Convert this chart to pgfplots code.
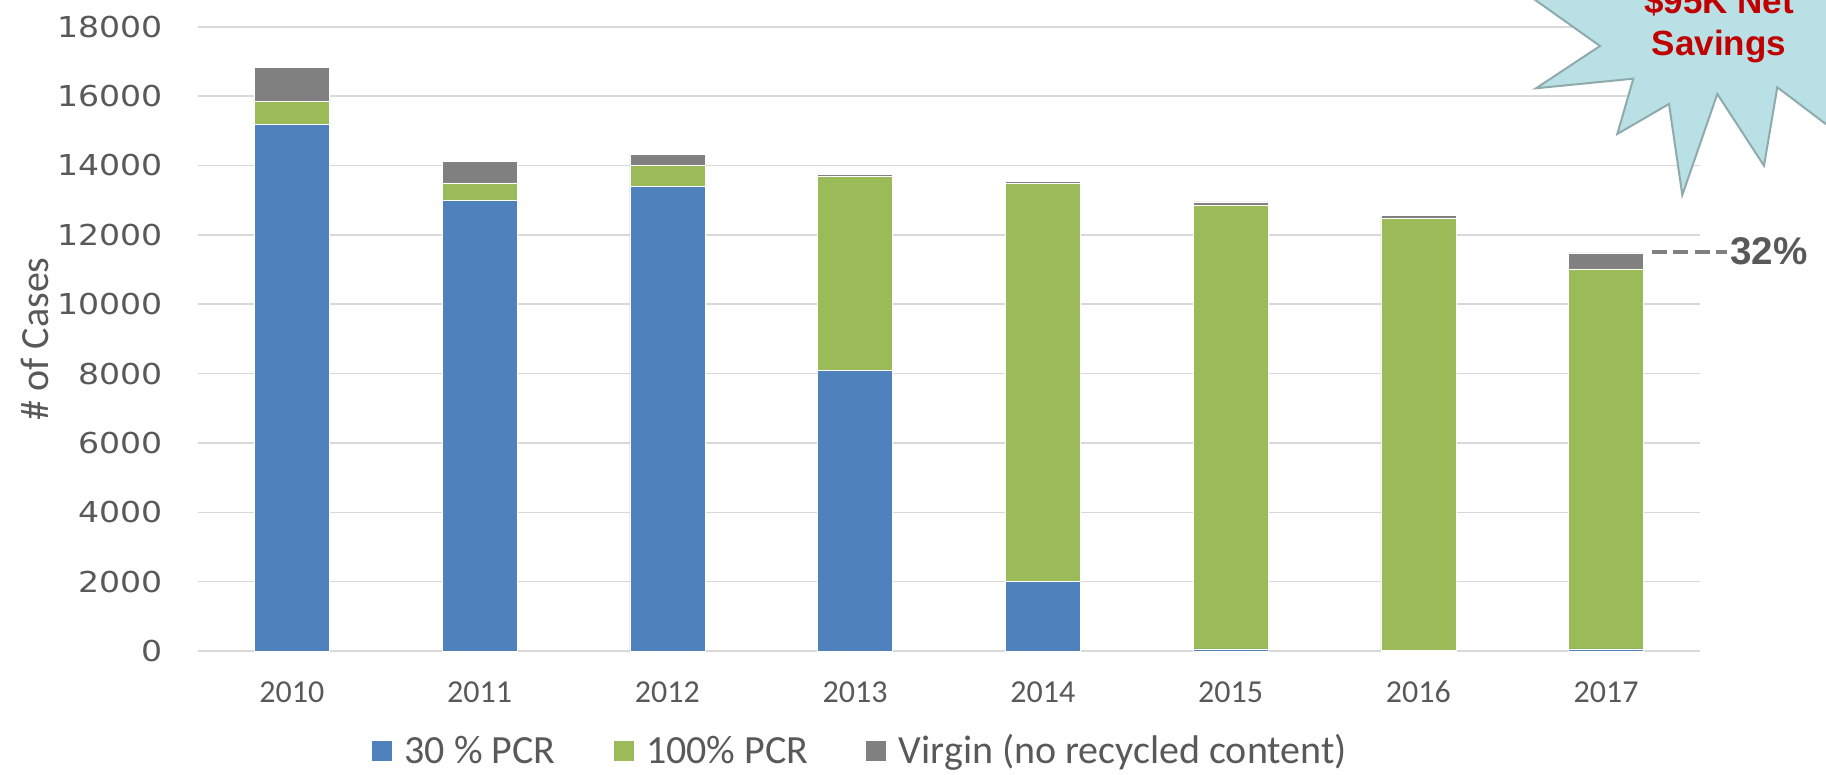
\documentclass[border=0pt]{standalone}
\usepackage{fontspec}
\usepackage{pgfplots}
\usepackage{pgfplotstable}
\pgfplotsset{compat=1.18}
\setmainfont{Carlito}
\newfontfamily\tickfont[FakeStretch=1.15]{DejaVu Sans}
\newfontfamily\arialb{Liberation Sans Bold}

\definecolor{pcrblue}{HTML}{4F81BD}
\definecolor{pcrgreen}{HTML}{9BBB59}
\definecolor{virgin}{HTML}{808080}
\definecolor{txt}{HTML}{595959}
\definecolor{gridc}{HTML}{D9D9D9}
\definecolor{starfill}{HTML}{B9E0E4}
\definecolor{starline}{HTML}{8FAAAD}
\definecolor{savred}{HTML}{C00000}

\pgfplotstableread{
x  blue  green  grey
0  15180 670    970
1  13000 500    620
2  13400 610    310
3  8100  5590   60
4  2000  11490  60
5  60    12780  110
6  10    12460  90
7  60    10960  460
}\cases

\begin{document}
\begin{tikzpicture}
\useasboundingbox (0,0) rectangle (913pt,387.5pt);
\clip (0,0) rectangle (913pt,387.5pt);
\begin{axis}[
    at={(99pt,62pt)}, anchor=south west,
    scale only axis,
    width=751pt, height=312.1pt,
    ybar stacked, bar width=0.4,
    xmin=-0.5, xmax=7.5,
    ymin=0, ymax=18000,
    xtick={0,...,7},
    xticklabels={2010,2011,2012,2013,2014,2015,2016,2017},
    ytick={0,2000,...,18000},
    scaled y ticks=false,
    major tick length=0pt,
    axis line style={draw=none},
    ymajorgrids=true,
    grid style={gridc, line width=0.75pt},
    /pgf/number format/assume math mode=true,
    /pgf/number format/set thousands separator={},
    yticklabel style={font=\tickfont\fontsize{14.4}{16}\selectfont, text=txt,
        anchor=east, inner sep=0pt, xshift=-17.5pt},
    xticklabel style={font=\fontsize{16}{19}\selectfont, text=txt,
        anchor=base, inner sep=0pt, yshift=-26pt},
    ylabel={\# of Cases},
    ylabel style={font=\fontsize{20}{24}\selectfont, text=txt,
        at={(axis description cs:-0.1085,0.5)}, anchor=center},
    legend columns=3,
    legend style={at={(0.44,-0.16)}, anchor=center, draw=none, fill=none,
        font=\fontsize{20}{24}\selectfont, text=txt,
        nodes={inner sep=0pt},
        /tikz/every odd column/.append style={column sep=6pt},
        /tikz/every even column/.append style={column sep=28.5pt}},
    legend image code/.code={\fill[#1] (0pt,-5.25pt) rectangle (10.5pt,5.25pt);},
    clip=false,
]
\addplot[fill=pcrblue, draw=white, line width=0.3pt] table[x=x, y=blue] {\cases};
\addplot[fill=pcrgreen, draw=white, line width=0.3pt] table[x=x, y=green] {\cases};
\addplot[fill=virgin, draw=white, line width=0.3pt] table[x=x, y=grey] {\cases};
\legend{30 \% PCR, 100\% PCR, Virgin (no recycled content)}
\end{axis}

% starburst callout, cut by the page edge
\filldraw[fill=starfill, draw=starline, line width=1pt, line join=miter]
    (753.5pt,397.5pt) -- (800pt,364.5pt) -- (768pt,343.35pt) -- (816.65pt,348.15pt)
    -- (808.65pt,320.5pt) -- (834.5pt,335.5pt) -- (841.15pt,290pt) -- (858.65pt,340.5pt)
    -- (882pt,304.65pt) -- (888.65pt,343.85pt) -- (920pt,320.1pt) -- (930pt,400pt) -- cycle;
\node[anchor=base, text=savred, font=\arialb\fontsize{17.5}{21}\selectfont, inner sep=0pt]
    at (859.5pt,380.8pt) {\$95K Net};
\node[anchor=base, text=savred, font=\arialb\fontsize{17.5}{21}\selectfont, inner sep=0pt]
    at (859.5pt,359.5pt) {Savings};

% reduction marker
\draw[virgin, line width=2pt, dash pattern=on 7.5pt off 3.2pt] (826pt,261.35pt) -- (863.5pt,261.35pt);
\node[anchor=base west, text=txt, font=\arialb\fontsize{19.3}{23}\selectfont, inner sep=0pt]
    at (865pt,255pt) {32\%};
\end{tikzpicture}
\end{document}
